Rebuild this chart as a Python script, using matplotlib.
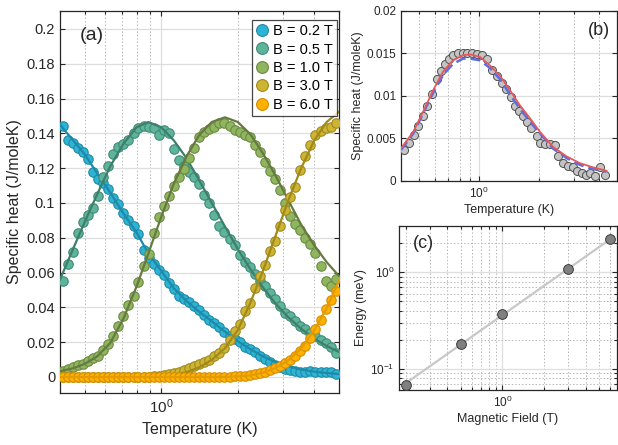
import math
import matplotlib
matplotlib.use('Agg')
import matplotlib.pyplot as plt
from matplotlib.ticker import FixedLocator, LogLocator, NullFormatter, FuncFormatter
from matplotlib.lines import Line2D

plt.rcParams['font.family'] = ['Liberation Sans', 'DejaVu Sans']
plt.rcParams['mathtext.fontset'] = 'custom'
plt.rcParams['mathtext.rm'] = 'Liberation Sans'
plt.rcParams['mathtext.default'] = 'regular'

# ---- panel (a): specific heat at several fields ----
T_pts = [0.410, 0.429, 0.449, 0.470, 0.492, 0.515, 0.539, 0.565, 0.591, 0.619,
         0.648, 0.678, 0.710, 0.743, 0.778, 0.814, 0.852, 0.892, 0.934, 0.978,
         1.024, 1.072, 1.122, 1.174, 1.229, 1.287, 1.347, 1.410, 1.476, 1.545,
         1.618, 1.693, 1.773, 1.856, 1.942, 2.033, 2.129, 2.228, 2.333, 2.442,
         2.556, 2.676, 2.801, 2.932, 3.070, 3.213, 3.364, 3.521, 3.686, 3.859,
         4.040, 4.229, 4.427, 4.634, 4.851]

c_02 = [0.1445, 0.136, 0.1345, 0.1315, 0.129, 0.125, 0.118, 0.114, 0.1115, 0.108,
        0.103, 0.0995, 0.094, 0.090, 0.0865, 0.082, 0.073, 0.0685, 0.065, 0.0615,
        0.0588, 0.054, 0.0505, 0.0468, 0.0448, 0.0428, 0.0408, 0.0385, 0.0355, 0.0328,
        0.031, 0.029, 0.026, 0.0238, 0.0218, 0.0203, 0.0175, 0.016, 0.0145, 0.012,
        0.0103, 0.0085, 0.007, 0.0058, 0.0047, 0.0038, 0.0034, 0.0031, 0.0030, 0.0032,
        0.0029, 0.0030, 0.0028, 0.0026, 0.0016]
c_05 = [0.055, 0.065, 0.072, 0.083, 0.089, 0.093, 0.097, 0.104, 0.115, 0.121,
        0.128, 0.132, 0.134, 0.136, 0.140, 0.143, 0.144, 0.1438, 0.143, 0.139,
        0.1417, 0.140, 0.131, 0.1245, 0.121, 0.118, 0.115, 0.111, 0.1045, 0.100,
        0.093, 0.087, 0.0835, 0.079, 0.0756, 0.070, 0.066, 0.063, 0.059, 0.055,
        0.052, 0.048, 0.045, 0.041, 0.037, 0.035, 0.032, 0.0295, 0.0277, 0.0255,
        0.0235, 0.021, 0.0195, 0.0175, 0.0138]
c_10 = [0.0035, 0.0045, 0.0055, 0.0067, 0.0076, 0.009, 0.0107, 0.0121, 0.0155, 0.019,
        0.0235, 0.0295, 0.035, 0.0412, 0.0468, 0.0545, 0.0635, 0.0705, 0.083, 0.092,
        0.0985, 0.104, 0.1095, 0.115, 0.1195, 0.126, 0.1315, 0.138, 0.141, 0.1425,
        0.1438, 0.1457, 0.1462, 0.1442, 0.1417, 0.1405, 0.139, 0.138, 0.1335, 0.129,
        0.1235, 0.1185, 0.114, 0.1075, 0.100, 0.0925, 0.088, 0.0842, 0.080, 0.0765,
        0.071, 0.064, 0.055, 0.0525, 0.0565]
c_30 = [0.0, 0.0, 0.0, 0.0, 0.0, 0.0, 0.0, 0.0, 0.0, 0.0,
        0.0, 0.0, 0.0, 0.0001, 0.0001, 0.0001, 0.0002, 0.0002, 0.0003, 0.0005,
        0.0012, 0.0016, 0.0022, 0.0030, 0.0040, 0.0050, 0.0062, 0.0072, 0.0085, 0.010,
        0.0118, 0.014, 0.0168, 0.021, 0.0265, 0.0305, 0.038, 0.0425, 0.051, 0.058,
        0.0645, 0.0725, 0.078, 0.087, 0.096, 0.1035, 0.109, 0.119, 0.127, 0.1335,
        0.139, 0.1415, 0.143, 0.1438, 0.146]
c_60 = [0.0, 0.0, 0.0, 0.0, 0.0, 0.0, 0.0, 0.0, 0.0, 0.0,
        0.0, 0.0, 0.0, 0.0, 0.0, 0.0, 0.0, 0.0, 0.0, 0.0,
        0.0, 0.0, 0.0, 0.0, 0.0, 0.0, 0.0, 0.0, 0.0, 0.0,
        0.0, 0.0001, 0.0001, 0.0002, 0.0003, 0.0005, 0.0008, 0.0012, 0.0017, 0.0024,
        0.0031, 0.004, 0.0052, 0.0065, 0.008, 0.0098, 0.0122, 0.0148, 0.018, 0.0225,
        0.0275, 0.033, 0.039, 0.0445, 0.0495]

T_fit = [0.40, 0.45, 0.50, 0.56, 0.63, 0.71, 0.80, 0.89, 1.0, 1.12, 1.26, 1.41,
         1.58, 1.78, 2.0, 2.24, 2.51, 2.82, 3.16, 3.55, 3.98, 4.47, 5.0]
fit_02 = [0.145, 0.136, 0.128, 0.117, 0.106, 0.094, 0.083, 0.071, 0.061, 0.051, 0.0435, 0.0375,
          0.032, 0.026, 0.0205, 0.016, 0.0118, 0.0085, 0.006, 0.0043, 0.0031, 0.0023, 0.0017]
fit_05 = [0.056, 0.0735, 0.089, 0.105, 0.121, 0.134, 0.1435, 0.1465, 0.1435, 0.136, 0.1255, 0.113,
          0.100, 0.0865, 0.0735, 0.062, 0.0515, 0.042, 0.0343, 0.0277, 0.0222, 0.0178, 0.0143]
fit_10 = [0.0033, 0.005, 0.0075, 0.0118, 0.0195, 0.0335, 0.052, 0.071, 0.092, 0.111, 0.127, 0.139,
          0.1465, 0.1492, 0.1465, 0.1395, 0.1285, 0.1155, 0.1015, 0.0875, 0.076, 0.066, 0.058]
fit_30 = [0.0, 0.0, 0.0, 0.0, 0.0, 0.0, 0.0001, 0.0002, 0.0006, 0.0013, 0.0028, 0.0055,
          0.0098, 0.0165, 0.027, 0.0425, 0.061, 0.0815, 0.1015, 0.120, 0.1355, 0.1465, 0.1525]
fit_60 = [0.0, 0.0, 0.0, 0.0, 0.0, 0.0, 0.0, 0.0, 0.0, 0.0, 0.0, 0.0,
          0.0, 0.0, 0.0004, 0.0009, 0.0024, 0.0052, 0.0095, 0.0165, 0.0265, 0.0395, 0.0555]

labels_a = ['B = 0.2 T', 'B = 0.5 T', 'B = 1.0 T', 'B = 3.0 T', 'B = 6.0 T']
face_a = ['#2db4d4', '#5db49b', '#8fb55f', '#cdb433', '#ffb100']
edge_a = ['#1d8aa6', '#3f8a73', '#6a8a42', '#a18a1c', '#d48d00']
line_a = ['#1e89a8', '#3e7f6c', '#66793f', '#a08a1a', '#e39b00']

# ---- panel (b): 0.5 T data with two fits ----
T_b = [0.420, 0.446, 0.470, 0.494, 0.520, 0.548, 0.577, 0.611, 0.640, 0.673,
       0.707, 0.740, 0.785, 0.825, 0.871, 0.922, 0.970, 1.027, 1.088, 1.153,
       1.222, 1.294, 1.361, 1.436, 1.510, 1.587, 1.663, 1.741, 1.830, 1.940,
       2.015, 2.135, 2.262, 2.397, 2.491, 2.639, 2.796, 2.962, 3.102, 3.262,
       3.428, 3.592, 3.805, 4.031, 4.270]
c_b = [0.00365, 0.0045, 0.0054, 0.0065, 0.0076, 0.0088, 0.0102, 0.0120, 0.0129, 0.0138,
       0.0143, 0.0148, 0.0151, 0.0151, 0.0150, 0.0150, 0.0149, 0.0148, 0.0144, 0.0131,
       0.0124, 0.0115, 0.0108, 0.0099, 0.0088, 0.0082, 0.0076, 0.0069, 0.0062, 0.0053,
       0.0045, 0.0044, 0.0044, 0.0042, 0.0029, 0.0021, 0.0018, 0.0016, 0.0012, 0.0009,
       0.0007, 0.0009, 0.0006, 0.0017, 0.0007]
T_b_fit = [0.405, 0.467, 0.524, 0.588, 0.660, 0.740, 0.831, 0.898, 1.008, 1.131,
           1.270, 1.425, 1.600, 1.795, 2.015, 2.351, 2.742, 3.200, 3.733, 4.354]
fit_b_red = [0.00384, 0.0058, 0.0082, 0.0107, 0.0129, 0.0142, 0.0148, 0.0149, 0.0146, 0.0136,
             0.0124, 0.0107, 0.0089, 0.0074, 0.0058, 0.0040, 0.0029, 0.0021, 0.0016, 0.0012]
fit_b_blue = [0.00365, 0.0056, 0.0080, 0.0104, 0.0125, 0.0138, 0.0144, 0.0144, 0.0142, 0.0133,
              0.0120, 0.0102, 0.0085, 0.0070, 0.0056, 0.0038, 0.0027, 0.0019, 0.0014, 0.0011]

# ---- panel (c): gap vs field ----
B_c = [0.2, 0.5, 1.0, 3.0, 6.0]
E_c = [0.0683, 0.180, 0.371, 1.074, 2.19]
B_c_fit = [0.2, 6.0]
E_c_fit = [0.071, 2.2]

spine_col = '#262626'


def style_axes(ax, labelsize):
    for s in ax.spines.values():
        s.set_color(spine_col)
        s.set_linewidth(0.9)
    ax.tick_params(which='both', direction='in', top=True, right=True,
                   colors=spine_col, labelsize=labelsize, width=0.8)
    ax.tick_params(which='major', length=3.5)
    ax.tick_params(which='minor', length=2)
    ax.set_axisbelow(True)


pow_fmt = FuncFormatter(lambda v, p: r'$10^{%d}$' % round(math.log10(v)))
g_fmt = FuncFormatter(lambda v, p: '%g' % round(v, 4))
minor_subs = [2, 3, 4, 5, 6, 7, 8, 9]

fig = plt.figure(figsize=(6.18, 4.45), dpi=100)

# panel (a)
ax = fig.add_axes([0.0971, 0.1169, 0.4515, 0.8584])
ax.set_xscale('log')
series = [c_02, c_05, c_10, c_30, c_60]
fits = [fit_02, fit_05, fit_10, fit_30, fit_60]
for k in range(5):
    ax.plot(T_pts, series[k], 'o', ms=6.8, mfc=face_a[k], mec=edge_a[k], mew=0.8, zorder=3 + k)
    ax.plot(T_fit, fits[k], '-', color=line_a[k], lw=1.6, zorder=3 + k)
ax.set_xlim(0.4, 5.0)
ax.set_ylim(-0.0092, 0.2103)
ax.set_yticks([0, 0.02, 0.04, 0.06, 0.08, 0.1, 0.12, 0.14, 0.16, 0.18, 0.2])
ax.yaxis.set_major_formatter(g_fmt)
ax.xaxis.set_major_locator(FixedLocator([1.0]))
ax.xaxis.set_major_formatter(pow_fmt)
ax.xaxis.set_minor_locator(LogLocator(base=10, subs=minor_subs, numticks=20))
ax.xaxis.set_minor_formatter(NullFormatter())
ax.grid(which='major', color='#dedede', lw=0.9)
ax.grid(which='minor', axis='x', color='#b8b8b8', lw=0.7, ls=(0, (1.5, 2)))
style_axes(ax, 10.5)
ax.tick_params(axis='x', labelsize=11)
ax.set_xlabel('Temperature (K)', fontsize=11.5, color=spine_col, labelpad=4)
ax.set_ylabel('Specific heat (J/moleK)', fontsize=11.5, color=spine_col, labelpad=3)
ax.text(0.07, 0.937, '(a)', transform=ax.transAxes, fontsize=14, va='center', color=spine_col)
handles = [Line2D([], [], ls='none', marker='o', ms=8.5, mfc=face_a[k], mec=edge_a[k], mew=0.8)
           for k in range(5)]
leg = ax.legend(handles, labels_a, loc='upper right', bbox_to_anchor=(0.993, 0.977),
                borderaxespad=0, fontsize=10.5, frameon=True, fancybox=False,
                handlelength=0.8, handletextpad=0.35, labelspacing=0.3, borderpad=0.3)
leg.get_frame().set_edgecolor('#1a1a1a')
leg.get_frame().set_linewidth(0.9)
leg.set_zorder(20)

# panel (b)
axb = fig.add_axes([0.6489, 0.5933, 0.349, 0.382])
axb.set_xscale('log')
axb.plot(T_b, c_b, 'o', ms=5.8, mfc='#c4c4c4', mec='#505050', mew=0.7, zorder=3)
axb.plot(T_b_fit, fit_b_blue, '--', color='#5b6fe0', lw=1.8, dashes=(4, 2), zorder=4)
axb.plot(T_b_fit, fit_b_red, '-', color='#e8575a', lw=1.3, zorder=5)
axb.set_xlim(0.405, 4.9)
axb.set_ylim(0, 0.02)
axb.set_yticks([0, 0.005, 0.01, 0.015, 0.02])
axb.yaxis.set_major_formatter(g_fmt)
axb.xaxis.set_major_locator(FixedLocator([1.0]))
axb.xaxis.set_major_formatter(pow_fmt)
axb.xaxis.set_minor_locator(LogLocator(base=10, subs=minor_subs, numticks=20))
axb.xaxis.set_minor_formatter(NullFormatter())
axb.grid(which='major', color='#dedede', lw=0.9)
axb.grid(which='minor', axis='x', color='#b8b8b8', lw=0.7, ls=(0, (1.5, 2)))
style_axes(axb, 8.5)
axb.set_xlabel('Temperature (K)', fontsize=9, color=spine_col, labelpad=2)
axb.set_ylabel('Specific heat (J/moleK)', fontsize=9, color=spine_col, labelpad=2)
axb.text(0.97, 0.888, '(b)', transform=axb.transAxes, fontsize=13, ha='right',
         va='center', color=spine_col)

# panel (c)
axc = fig.add_axes([0.6461, 0.1236, 0.3518, 0.3692])
axc.set_xscale('log')
axc.set_yscale('log')
axc.plot(B_c_fit, E_c_fit, '-', color='#c8c8c8', lw=1.6, zorder=3)
axc.plot(B_c, E_c, 'o', ms=7, mfc='#808080', mec='#3a3a3a', mew=0.7, zorder=4)
axc.set_xlim(0.18, 6.7)
axc.set_ylim(0.0606, 3.04)
axc.xaxis.set_major_locator(FixedLocator([1.0]))
axc.xaxis.set_major_formatter(pow_fmt)
axc.yaxis.set_major_locator(FixedLocator([0.1, 1.0]))
axc.yaxis.set_major_formatter(pow_fmt)
for a in (axc.xaxis, axc.yaxis):
    a.set_minor_locator(LogLocator(base=10, subs=minor_subs, numticks=20))
    a.set_minor_formatter(NullFormatter())
axc.grid(which='major', color='#dedede', lw=0.9)
axc.grid(which='minor', color='#b8b8b8', lw=0.7, ls=(0, (1.5, 2)))
style_axes(axc, 8.5)
axc.set_xlabel('Magnetic Field (T)', fontsize=9, color=spine_col, labelpad=2)
axc.set_ylabel('Energy (meV)', fontsize=9, color=spine_col, labelpad=2)
axc.text(0.063, 0.89, '(c)', transform=axc.transAxes, fontsize=13, va='center',
         color=spine_col)

fig.savefig('out.png', dpi=100)
